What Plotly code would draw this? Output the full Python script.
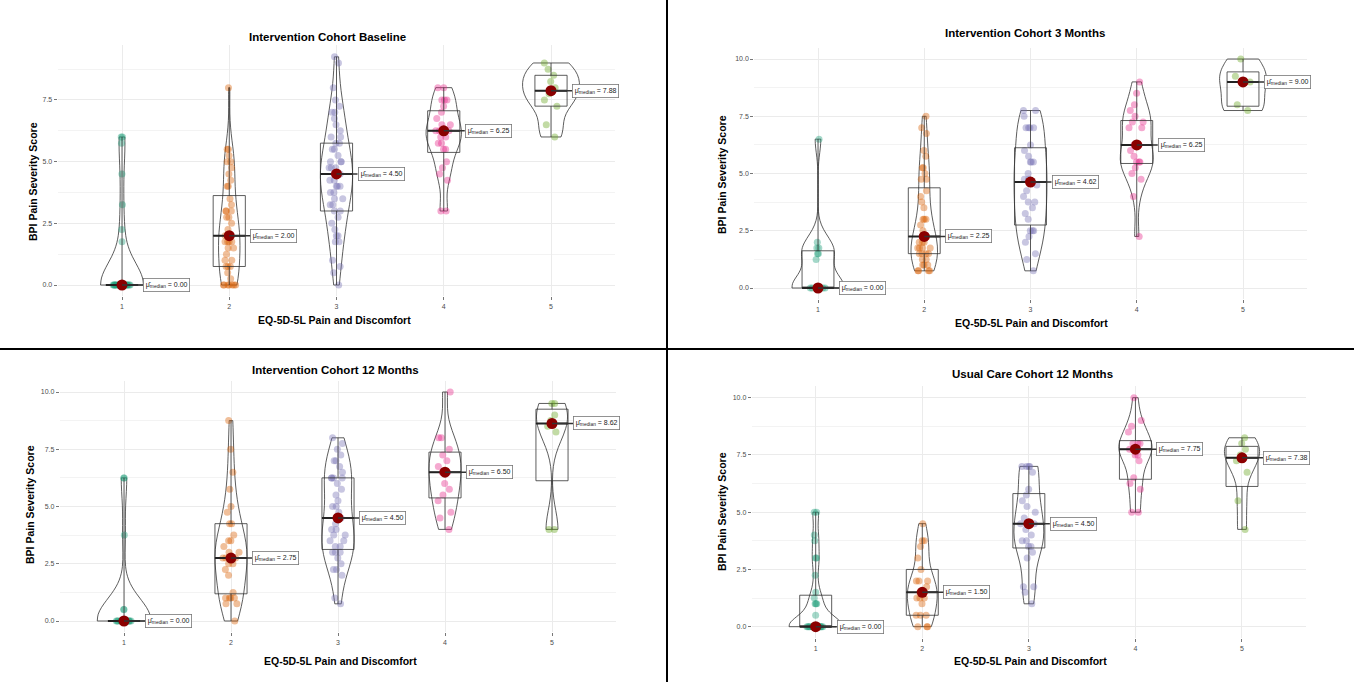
import numpy as np
import plotly.graph_objects as go

# ---------------- data ----------------
categories = [1, 2, 3, 4, 5]
tick_labels = ["1", "2", "3", "4", "5"]
panel_titles = ["Intervention Cohort Baseline", "Intervention Cohort 3 Months",
                "Intervention Cohort 12 Months", "Usual Care Cohort 12 Months"]
x_title = "EQ-5D-5L Pain and Discomfort"
y_title = "BPI Pain Severity Score"

baseline_1 = [0, 0, 0, 0, 0, 0, 0, 0, 0, 0, 0, 0, 0, 0, 0, 0, 0, 0, 0, 0, 0, 0, 0, 0,
              6.0, 6.0, 5.75, 4.5, 3.25, 2.25, 1.75]
baseline_2 = [8.0, 5.5, 5.5, 5.25, 5.0, 5.0, 4.75, 4.5, 4.0, 4.0, 4.25, 3.5, 3.25, 3.0, 3.0, 3.0,
              2.75, 2.75, 2.5, 2.25, 2.0, 2.0, 2.0, 2.0, 1.75, 1.75, 1.75, 1.75, 1.5, 1.5, 1.25,
              1.0, 1.0, 0.75, 0.75, 0.75, 0.5, 0.25, 0, 0, 0, 0, 0, 0, 0]
baseline_3 = [9.25, 9.0, 8.0, 7.5, 7.25, 7.0, 7.0, 6.75, 6.5, 6.25, 6.0, 6.0, 5.75, 5.75, 5.5, 5.5,
              5.25, 5.0, 5.0, 5.0, 4.75, 4.75, 4.75, 4.5, 4.5, 4.5, 4.25, 4.25, 4.0, 4.0, 4.0,
              3.75, 3.75, 3.5, 3.5, 3.25, 3.25, 3.0, 3.0, 2.75, 2.5, 2.25, 2.0, 2.0, 1.75, 1.75,
              1.0, 0.75, 0.5, 0.0]
baseline_4 = [8.0, 8.0, 7.5, 7.5, 7.5, 7.25, 7.0, 6.75, 6.5, 6.5, 6.25, 6.25, 6.25, 6.0, 6.0,
              5.75, 5.75, 5.5, 5.5, 5.0, 4.75, 4.5, 4.25, 3.0, 3.0]
baseline_5 = [9.0, 8.75, 8.5, 8.25, 8.0, 7.75, 7.5, 7.25, 6.5, 6.0]

month3_1 = [0, 0, 0, 0, 0, 0, 0, 0, 0, 6.5, 2.0, 1.75, 1.75, 1.5, 1.5, 1.25]
month3_2 = [7.5, 7.0, 6.75, 6.0, 5.75, 5.25, 5.25, 5.0, 4.75, 4.75, 4.25, 4.0, 3.75, 3.5,
            3.0, 3.0, 3.0, 2.75, 2.5, 2.25, 2.25, 2.0, 2.0, 2.0, 1.75, 1.75, 1.75, 1.75,
            1.5, 1.5, 1.5, 1.5, 1.25, 1.25, 1.0, 1.0, 1.0, 0.75, 0.75, 0.75, 0.75]
month3_3 = [7.75, 7.75, 7.5, 7.0, 7.0, 7.0, 7.0, 6.25, 6.0, 5.75, 5.5, 5.5, 5.5, 5.0, 4.75,
            4.75, 4.5, 4.25, 4.0, 3.75, 3.75, 3.5, 3.25, 3.0, 2.5, 2.5, 2.5, 2.25, 2.0, 1.5,
            1.25, 0.75]
month3_4 = [9.0, 8.5, 8.0, 7.75, 7.5, 7.25, 7.25, 7.0, 7.0, 6.25, 6.25, 6.0, 5.75, 5.5, 5.5,
            5.5, 5.25, 5.0, 4.75, 4.0, 2.25]
month3_5 = [10.0, 9.25, 9.0, 8.0, 7.75]

month12_1 = [0, 0, 0, 0, 0, 0, 0, 0, 0, 0, 0, 0, 0, 0, 0, 0, 0, 0, 6.25, 6.25, 3.75, 0.5, 0.5]
month12_2 = [8.75, 7.5, 6.5, 5.75, 5.0, 4.75, 4.25, 4.25, 3.75, 3.5, 3.5, 3.25, 3.0, 3.0,
             2.75, 2.75, 2.75, 2.5, 2.5, 2.25, 2.0, 1.25, 1.0, 1.0, 1.0, 1.0, 0.75, 0.75, 0.0]
month12_3 = [0.75, 1.0, 2.0, 2.25, 2.25, 2.5, 2.75, 3.0, 3.0, 3.0, 3.25, 3.25, 3.5, 3.5, 3.75,
             3.75, 4.0, 4.0, 4.25, 4.5, 4.5, 4.75, 5.0, 5.0, 5.25, 5.5, 5.75, 6.0, 6.25, 6.25,
             6.25, 6.25, 6.5, 6.75, 7.0, 7.0, 7.25, 7.5, 7.75, 8.0]
month12_4 = [10.0, 8.0, 8.0, 7.5, 7.25, 7.0, 6.75, 6.5, 6.5, 6.0, 5.75, 5.5, 5.25, 4.75, 4.5, 4.0]
month12_5 = [9.5, 9.5, 9.0, 8.75, 8.5, 8.25, 4.0, 4.0]

usual12_1 = [0, 0, 0, 0, 0, 0, 0, 0, 0, 0, 0, 0, 0, 0, 0, 0, 0, 0, 0,
             5.0, 5.0, 4.0, 3.75, 3.0, 3.0, 2.25, 1.5, 1.25, 1.0, 1.0, 1.0, 0.5]
usual12_2 = [4.5, 3.75, 3.75, 3.5, 3.0, 2.5, 2.0, 2.0, 2.0, 1.75, 1.5, 1.5, 1.25, 1.25, 1.25,
             1.0, 0.5, 0.5, 0.5, 0.0, 0.0, 0.0]
usual12_3 = [7.0, 7.0, 7.0, 7.0, 6.75, 6.0, 5.75, 5.5, 5.25, 5.0, 4.75, 4.5, 4.5, 4.25, 4.0,
             3.75, 3.75, 3.5, 3.5, 3.25, 3.0, 1.75, 1.75, 1.5, 1.0]
usual12_4 = [10.0, 9.0, 8.75, 8.5, 8.0, 8.0, 8.0, 7.75, 7.75, 7.5, 7.5, 7.25, 6.5, 6.25, 6.0,
             5.0, 5.0]
usual12_5 = [8.25, 8.0, 7.75, 7.5, 7.25, 6.75, 5.5, 4.25]

panels_data = [
    [baseline_1, baseline_2, baseline_3, baseline_4, baseline_5],
    [month3_1, month3_2, month3_3, month3_4, month3_5],
    [month12_1, month12_2, month12_3, month12_4, month12_5],
    [usual12_1, usual12_2, usual12_3, usual12_4, usual12_5],
]

# ---------------- style / layout ----------------
W, H = 1354, 682
point_colors = ["rgba(27,158,119,0.4)", "rgba(217,95,2,0.4)", "rgba(117,112,179,0.4)",
                "rgba(231,41,138,0.4)", "rgba(102,166,30,0.4)"]
violin_widths = [
    [0.40, 0.20, 0.30, 0.33, 0.53],
    [0.49, 0.25, 0.31, 0.31, 0.44],
    [0.50, 0.30, 0.30, 0.30, 0.29],
    [0.50, 0.28, 0.28, 0.31, 0.33],
]
BOX_W = 0.3
# pixel geometry of each panel: (px of cat 1, px of cat 5, px of y=0, px per unit y, y-range)
geom = [
    (122.0, 551.0, 285.0, 24.67, (-0.46, 9.71)),
    (818.0, 1243.0, 288.0, 22.9, (-0.5, 10.5)),
    (124.0, 552.0, 621.0, 22.9, (-0.5, 10.5)),
    (815.7, 1242.0, 626.7, 22.9, (-0.5, 10.5)),
]
title_pos = [(327, 37), (1025, 33), (335, 370), (1032, 374)]
xtitle_pos = [(334, 320), (1031, 323), (340, 661), (1030, 661)]
ytitle_pos = [(33, 182), (722, 175), (30, 505), (722, 512)]

FONT = "Liberation Sans, Arial, sans-serif"


def nrd0(x):
    x = np.asarray(x, float)
    sd = x.std(ddof=1)
    iqr = np.subtract(*np.percentile(x, [75, 25]))
    lo = min(sd, iqr / 1.34)
    if lo == 0:
        lo = sd if sd > 0 else 1.0
    return 0.9 * lo * len(x) ** (-0.2)


fig = go.Figure()
annotations = []
layout_axes = {}

for p, groups in enumerate(panels_data):
    ax_id = "" if p == 0 else str(p + 1)
    xref, yref = "x" + ax_id, "y" + ax_id
    c1, c5, y0px, vpx, yr = geom[p]
    upx = (c5 - c1) / 4.0
    left = c1 - 0.6 * upx
    right = c5 + 0.6 * upx
    top = y0px - yr[1] * vpx
    bottom = y0px - yr[0] * vpx
    layout_axes["xaxis" + ax_id] = dict(
        domain=[left / W, right / W], range=[0.4, 5.6], anchor=yref,
        tickmode="array", tickvals=categories, ticktext=tick_labels,
        showgrid=True, gridcolor="#ebebeb", gridwidth=1, zeroline=False, showline=False,
        ticks="outside", ticklen=3, tickcolor="#777", tickwidth=0.8,
        tickfont=dict(size=7, color="#4d4d4d", family=FONT),
    )
    layout_axes["yaxis" + ax_id] = dict(
        domain=[1 - bottom / H, 1 - top / H], range=list(yr), anchor=xref,
        tickmode="linear", tick0=0, dtick=2.5, tickformat=".1f",
        showgrid=True, gridcolor="#ebebeb", gridwidth=1, zeroline=False, showline=False,
        ticks="outside", ticklen=3, tickcolor="#777", tickwidth=0.8,
        tickfont=dict(size=7, color="#4d4d4d", family=FONT),
        minor=dict(dtick=1.25, tick0=0, showgrid=True, gridcolor="#f3f3f3", ticks=""),
    )

    for g, vals in enumerate(groups):
        cat = categories[g]
        vw = violin_widths[p][g]
        fig.add_trace(go.Violin(
            x=[cat] * len(vals), y=vals, xaxis=xref, yaxis=yref,
            width=vw, scalemode="width", spanmode="hard", bandwidth=nrd0(vals),
            fillcolor="rgba(0,0,0,0)", line=dict(color="#333333", width=0.8),
            points="all", pointpos=0, jitter=min(1.0, 0.17 / vw),
            marker=dict(color=point_colors[g], size=7, line=dict(width=0)),
            box_visible=False, meanline_visible=False, showlegend=False, hoverinfo="y",
        ))
        fig.add_trace(go.Box(
            x=[cat] * len(vals), y=vals, xaxis=xref, yaxis=yref, width=BOX_W,
            boxpoints=False, fillcolor="rgba(0,0,0,0)", line=dict(color="#333333", width=0.8),
            whiskerwidth=0, showlegend=False, hoverinfo="skip",
        ))
    for g, vals in enumerate(groups):
        cat = categories[g]
        med = float(np.median(vals))
        # thick median bar (ggplot draws the box median line fattened)
        fig.add_trace(go.Scatter(
            x=[cat - BOX_W / 2, cat + BOX_W / 2], y=[med, med], xaxis=xref, yaxis=yref,
            mode="lines", line=dict(color="#222222", width=2), showlegend=False,
            hoverinfo="skip",
        ))
        fig.add_trace(go.Scatter(
            x=[cat], y=[med], xaxis=xref, yaxis=yref, mode="markers",
            marker=dict(color="#8B0000", size=11), showlegend=False, hoverinfo="y",
        ))
        annotations.append(dict(
            x=cat, y=med, xref=xref, yref=yref, text=f"\u03bc\u0302<sub>median</sub> = {med:.2f}",
            showarrow=True, arrowhead=0, arrowwidth=1.5, arrowcolor="#333333",
            ax=21, ay=0, xanchor="left", yanchor="middle",
            bordercolor="#777", borderwidth=0.8, borderpad=2, bgcolor="white",
            font=dict(size=7, color="#222", family=FONT),
        ))

    tx, ty = title_pos[p]
    annotations.append(dict(x=tx / W, y=1 - ty / H, xref="paper", yref="paper", showarrow=False,
                            text=f"<b>{panel_titles[p]}</b>", xanchor="center", yanchor="middle",
                            font=dict(size=11.5, color="black", family=FONT)))
    tx, ty = xtitle_pos[p]
    annotations.append(dict(x=tx / W, y=1 - ty / H, xref="paper", yref="paper", showarrow=False,
                            text=f"<b>{x_title}</b>", xanchor="center", yanchor="middle",
                            font=dict(size=10.5, color="black", family=FONT)))
    tx, ty = ytitle_pos[p]
    annotations.append(dict(x=tx / W, y=1 - ty / H, xref="paper", yref="paper", showarrow=False,
                            text=f"<b>{y_title}</b>", xanchor="center", yanchor="middle",
                            textangle=-90, font=dict(size=10.5, color="black", family=FONT)))

shapes = [
    dict(type="line", xref="paper", yref="paper", x0=667 / W, x1=667 / W, y0=0, y1=1,
         line=dict(color="black", width=2)),
    dict(type="line", xref="paper", yref="paper", x0=0, x1=1, y0=1 - 349 / H, y1=1 - 349 / H,
         line=dict(color="black", width=2)),
]

fig.update_layout(
    width=W, height=H, margin=dict(l=0, r=0, t=0, b=0),
    paper_bgcolor="white", plot_bgcolor="white",
    violinmode="overlay", boxmode="overlay",
    annotations=annotations, shapes=shapes, showlegend=False,
    font=dict(family=FONT),
    **layout_axes,
)

fig.write_html("out.html", config={"displayModeBar": False},
               post_script="document.body.style.margin='0';document.body.style.overflow='hidden';")
